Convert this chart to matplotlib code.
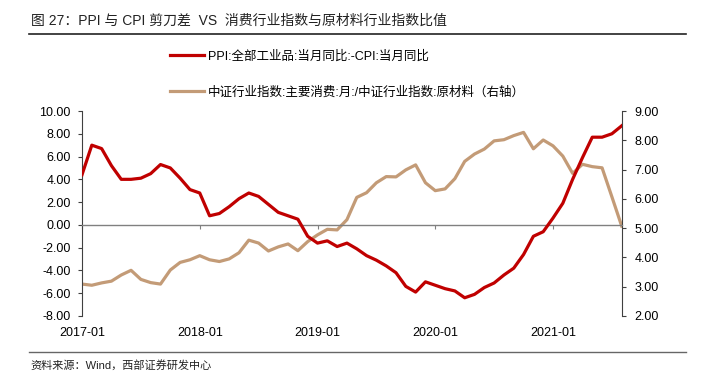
import matplotlib
matplotlib.use("Agg")
import matplotlib.pyplot as plt
from matplotlib.lines import Line2D
import numpy as np

# ---- data ----
months = [f"{y}-{m:02d}" for y in range(2017, 2022) for m in range(1, 13)][:56]
ppi_cpi = [4.4, 7.0, 6.7, 5.2, 4.0, 4.0, 4.1, 4.5, 5.3, 5.0, 4.1, 3.1,
           2.8, 0.8, 1.0, 1.6, 2.3, 2.8, 2.5, 1.8, 1.1, 0.8, 0.5, -1.0,
           -1.6, -1.4, -1.9, -1.6, -2.1, -2.7, -3.1, -3.6, -4.2, -5.4, -5.9, -5.0,
           -5.3, -5.6, -5.8, -6.4, -6.1, -5.5, -5.1, -4.4, -3.8, -2.6, -1.0, -0.6,
           0.6, 1.9, 4.0, 5.9, 7.7, 7.7, 8.0, 8.7]
ratio = [3.09, 3.05, 3.13, 3.19, 3.40, 3.56, 3.25, 3.14, 3.09, 3.57, 3.83, 3.92,
         4.06, 3.92, 3.86, 3.95, 4.16, 4.59, 4.49, 4.22, 4.36, 4.46, 4.23, 4.54,
         4.77, 4.96, 4.94, 5.29, 6.05, 6.21, 6.55, 6.76, 6.75, 6.99, 7.16, 6.55,
         6.28, 6.34, 6.69, 7.28, 7.53, 7.70, 7.98, 8.02, 8.16, 8.27, 7.71, 8.01,
         7.81, 7.46, 6.87, 7.18, 7.10, 7.06, 6.07, 5.07]
xtick_labels = ["2017-01", "2018-01", "2019-01", "2020-01", "2021-01"]
left_ticks = [10, 8, 6, 4, 2, 0, -2, -4, -6, -8]
right_ticks = [9, 8, 7, 6, 5, 4, 3, 2]
label_red = "PPI:全部工业品:当月同比:-CPI:当月同比"
label_tan = "中证行业指数:主要消费:月:/中证行业指数:原材料（右轴）"
title = "图 27：PPI 与 CPI 剪刀差  VS  消费行业指数与原材料行业指数比值"
source = "资料来源：Wind，西部证券研发中心"

RED = "#C00000"
TAN = "#C39B77"
FAM = ["Liberation Sans", "Noto Sans CJK SC", "DejaVu Sans"]
plt.rcParams["font.family"] = FAM

W, H = 702, 386
fig = plt.figure(figsize=(W / 100, H / 100), dpi=100)
L, R, T, B = 82, 621.7, 111, 316
ax = fig.add_axes([L / W, 1 - B / H, (R - L) / W, (B - T) / H])
ax2 = ax.twinx()

x = np.arange(len(months))
l1, = ax.plot(x, ppi_cpi, color=RED, lw=2.3, solid_joinstyle="round", zorder=3)
l2, = ax2.plot(x, ratio, color=TAN, lw=2.3, solid_joinstyle="round", zorder=2)

ax.set_xlim(0, len(months) - 1)
ax.set_ylim(-8, 10)
ax2.set_ylim(2, 9)
ax.set_zorder(ax2.get_zorder() + 1)
ax.patch.set_visible(False)

spine_c = "#404040"
# left axis
ax.set_yticks(left_ticks)
ax.set_yticklabels([f"{v:.2f}" for v in left_ticks])
ax.tick_params(axis="y", direction="out", length=3, width=0.8, color=spine_c,
               pad=5, labelsize=9)
ax.spines["left"].set_color(spine_c)
ax.spines["top"].set_visible(False)
ax.spines["right"].set_visible(False)
# zero line as x spine
ax.spines["bottom"].set_position(("data", 0))
ax.spines["bottom"].set_color("#808080")
ax.spines["bottom"].set_linewidth(1.0)
xt = [months.index(m) for m in xtick_labels]
ax.set_xticks(xt)
ax.tick_params(axis="x", direction="out", length=3, width=0.8, color="#808080",
               labelbottom=False)
sec = ax.secondary_xaxis("bottom")
sec.set_xticks(xt)
sec.set_xticklabels(xtick_labels)
sec.tick_params(length=0, pad=8, labelsize=9)
sec.spines["bottom"].set_visible(False)

# right axis
ax2.set_yticks(right_ticks)
ax2.set_yticklabels([f"{v:.2f}" for v in right_ticks])
ax2.tick_params(axis="y", direction="out", length=3, width=0.8, color=spine_c,
                pad=6, labelsize=9)
for s in ["left", "top", "bottom"]:
    ax2.spines[s].set_visible(False)
ax2.spines["right"].set_color(spine_c)

# legend
fig.legend([l1, l2], [label_red, label_tan], loc="upper left",
           bbox_to_anchor=(170 / W, 1 - 50 / H), frameon=False,
           borderpad=0, borderaxespad=0, handlelength=2.7, handletextpad=0.35,
           labelspacing=1.92, prop={"family": FAM, "size": 9})

# header / footer
fig.text(31 / W, 1 - 21 / H, title, fontsize=10, ha="left", va="center",
         family=FAM, color="#222222")
fig.add_artist(Line2D([29 / W, 686 / W], [1 - 34 / H, 1 - 34 / H],
                      color="#222222", lw=1.2))
fig.add_artist(Line2D([29 / W, 686 / W], [1 - 351.5 / H, 1 - 351.5 / H],
                      color="#666666", lw=1.0))
fig.text(30 / W, 1 - 365 / H, source, fontsize=8, ha="left", va="center",
         family=FAM, color="#222222")

fig.savefig("out.png", dpi=100)
